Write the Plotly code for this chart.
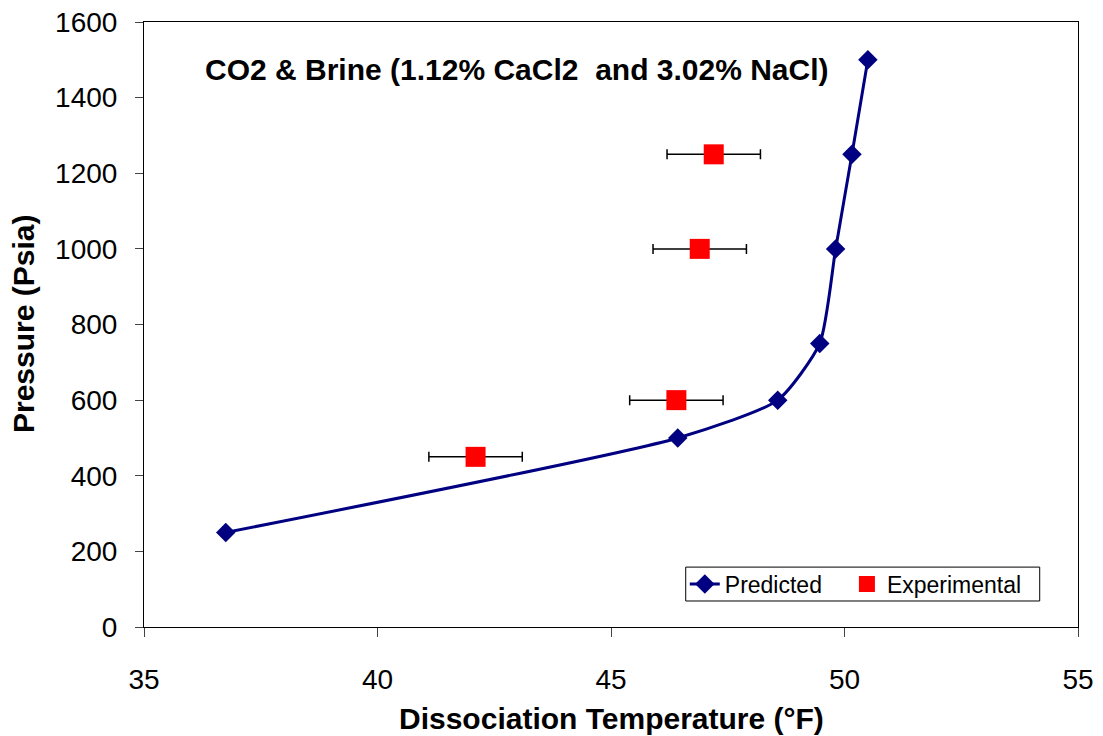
import plotly.graph_objects as go

pred_t = [36.75, 46.43, 48.57, 49.47, 49.81, 50.16, 50.5]
pred_p = [250, 500, 600, 750, 1000, 1250, 1500]
exp_t = [42.1, 46.4, 46.9, 47.2]
exp_p = [450, 600, 1000, 1250]
exp_err = [1.0, 1.0, 1.0, 1.0]

x_ticks = [35, 40, 45, 50, 55]
y_ticks = [0, 200, 400, 600, 800, 1000, 1200, 1400, 1600]

fig = go.Figure()
fig.add_trace(go.Scatter(
    x=pred_t, y=pred_p, mode="lines+markers", name="Predicted",
    line=dict(color="#000080", width=3, shape="spline", smoothing=0.6),
    marker=dict(symbol="diamond", size=15, color="#000080"),
    legend="legend",
))
fig.add_trace(go.Scatter(
    x=exp_t, y=exp_p, mode="markers", name="Experimental",
    marker=dict(symbol="square", size=20, color="#FF0000"),
    error_x=dict(type="data", array=exp_err, color="black", thickness=1.5, width=5),
    legend="legend2",
))

font = "Liberation Sans, Arial, sans-serif"
leg_common = dict(yanchor="middle", xanchor="left", orientation="h",
                  borderwidth=0, bgcolor="rgba(0,0,0,0)", font=dict(size=23))
fig.update_layout(
    width=1103, height=736,
    margin=dict(l=144, r=25, t=22, b=109, autoexpand=False),
    paper_bgcolor="white", plot_bgcolor="white",
    font=dict(family=font, size=28, color="black"),
    showlegend=True,
    legend=dict(x=0.579, y=0.071, **leg_common),
    legend2=dict(x=0.7526, y=0.071, **leg_common),
    shapes=[dict(type="rect", xref="paper", yref="paper",
                 x0=0.580, x1=0.959, y0=0.043, y1=0.099,
                 line=dict(color="black", width=1), fillcolor="white",
                 layer="above")],
    annotations=[
        dict(text="<b>CO2 & Brine (1.12% CaCl2  and 3.02% NaCl)</b>",
             x=0.063, y=0.921, xref="paper", yref="paper",
             xanchor="left", yanchor="middle", showarrow=False,
             font=dict(size=30)),
        dict(text="<b>Dissociation Temperature (°F)</b>",
             x=0.5, y=-0.152, xref="paper", yref="paper",
             xanchor="center", yanchor="middle", showarrow=False,
             font=dict(size=30)),
        dict(text="<b>Pressure (Psia)</b>", textangle=-90,
             x=-0.129, y=0.5, xref="paper", yref="paper",
             xanchor="center", yanchor="middle", showarrow=False,
             font=dict(size=30)),
    ],
)
fig.update_xaxes(range=[35, 55], tickvals=x_ticks, ticks="outside", ticklen=9,
                 ticklabelstandoff=18, ticklabeloverflow="allow", automargin=False,
                 showgrid=False, zeroline=False, showline=True, linecolor="black",
                 linewidth=1, mirror=True)
fig.update_yaxes(range=[0, 1600], tickvals=y_ticks, ticks="outside", ticklen=8,
                 ticklabelstandoff=12, ticklabeloverflow="allow", automargin=False,
                 showgrid=False, zeroline=False, showline=True, linecolor="black",
                 linewidth=1, mirror=True)

fig.write_html("out.html", config={"displayModeBar": False},
               post_script="document.body.style.margin='0';")
